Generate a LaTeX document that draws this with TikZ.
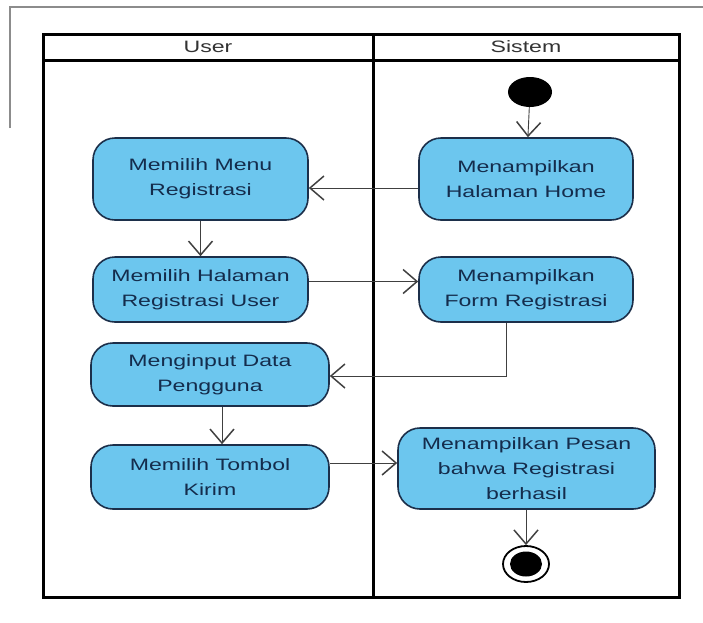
\documentclass[tikz,border=0pt]{standalone}
\usepackage{fontspec}
\setmainfont[FakeStretch=1.4]{Liberation Sans}
\usetikzlibrary{arrows.meta,shapes.geometric}
\definecolor{actblue}{HTML}{6CC6EE}
\definecolor{navy}{HTML}{1C2F4A}
\definecolor{navytext}{HTML}{142C4C}
\begin{document}
\begin{tikzpicture}[x=1pt,y=-1pt,
  act/.style={draw=navy, fill=actblue, line width=1.6pt, rounded corners=22pt,
    align=center, text=navytext, inner sep=0pt,
    font=\fontsize{16.5}{25}\selectfont},
  lane/.style={line width=3pt, draw=black},
  head/.style={font=\fontsize{16.5}{20}\selectfont, text=black!80},
  arr/.style={draw=black!75, line width=0.9pt,
    -{Straight Barb[length=14pt,width=24pt,line width=1.5pt]}},
  frame/.style={draw=black!45, line width=2pt}]
\useasboundingbox (0,0) rectangle (703,622);
% outer gray frame
\draw[frame] (10,128) -- (10,7) -- (703,7);
% swimlanes
\draw[lane] (43,34) rectangle (679,597);
\draw[lane] (43,60) -- (679,60);
\draw[lane] (373,34) -- (373,597);
\node[head] (huser) at (208,47) {User};
\node[head] (hsis) at (526,47) {Sistem};
% start / end
\node[ellipse, fill=black, minimum width=44pt, minimum height=30pt, inner sep=0] (init) at (530,92) {};
\node[ellipse, draw=black, line width=1.8pt, fill=white, minimum width=46pt, minimum height=36pt, inner sep=0] (final) at (526,564) {};
\node[ellipse, fill=black, minimum width=32pt, minimum height=25pt, inner sep=0] (finalin) at (526,564) {};
% activities
\node[act, minimum width=215pt, minimum height=82pt] (menu) at (200.5,179) {Memilih Menu\\Registrasi};
\node[act, minimum width=214pt, minimum height=82pt] (home) at (526,179) {Menampilkan\\Halaman Home};
\node[act, minimum width=215pt, minimum height=65pt] (halaman) at (200.5,289.5) {Memilih Halaman\\Registrasi User};
\node[act, minimum width=214pt, minimum height=65pt] (form) at (526,289.5) {Menampilkan\\Form Registrasi};
\node[act, minimum width=238pt, minimum height=63pt] (input) at (210,374.5) {Menginput Data\\Pengguna};
\node[act, minimum width=238pt, minimum height=64pt] (kirim) at (210,477) {Memilih Tombol\\Kirim};
\node[act, minimum width=257pt, minimum height=81pt] (pesan) at (526.5,468.5) {Menampilkan Pesan\\bahwa Registrasi\\berhasil};
% connectors
\draw[arr] (init) -- (home);
\draw[arr] ([yshift=-9pt]home.west) -- ([yshift=-9pt]home.west -| menu.east);
\draw[arr] (menu) -- (halaman);
\draw[arr] ([yshift=8pt]halaman.east) -- ([yshift=8pt]halaman.east -| form.west);
\coordinate (bend) at (506,376);
\draw[arr] (form.south -| bend) |- (input.east |- bend);
\draw[arr] ([xshift=12pt]input.south) -- ([xshift=12pt]kirim.north);
\draw[arr] ([yshift=14pt]kirim.east) -- ([yshift=14pt]kirim.east -| pesan.west);
\draw[arr] (pesan.south -| final) -- (final);
\end{tikzpicture}
\end{document}
